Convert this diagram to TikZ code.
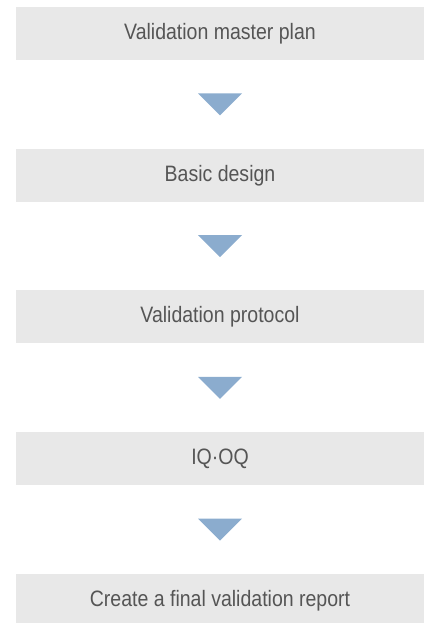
\documentclass[tikz,border=0pt]{standalone}
\usepackage{fontspec}
\setmainfont{Liberation Sans}[FakeStretch=0.875]
\usetikzlibrary{calc}
\definecolor{boxgray}{RGB}{232,232,232}
\definecolor{txtgray}{RGB}{85,85,85}
\definecolor{triblue}{RGB}{139,172,206}
\tikzset{
  stepbox/.style={fill=boxgray, draw=none, minimum width=408pt, minimum height=53pt, inner sep=0pt,
    text=txtgray, font=\fontsize{22.3}{26}\selectfont},
  downtri/.style={fill=triblue, draw=none}
}
\begin{document}
\begin{tikzpicture}[x=1pt,y=1pt]
\useasboundingbox (0,0) rectangle (424,623);
\clip (0,0) rectangle (424,623);
\node[stepbox] (b1) at (220,589.5) {Validation master plan};
\node[stepbox] (b2) at (220,447.75) {Basic design};
\node[stepbox] (b3) at (220,306) {Validation protocol};
\node[stepbox] (b4) at (220,164.25) {IQ·OQ};
\node[stepbox] (b5) at (220,22.5) {Create a final validation report};
\foreach \a/\b [count=\i] in {b1/b2,b2/b3,b3/b4,b4/b5}{
  \path (\a.south) -- (\b.north) coordinate[midway] (m\i);
  \fill[downtri] ($(m\i)+(-22,11)$) -- ($(m\i)+(22,11)$) -- ($(m\i)+(0,-11)$) -- cycle;
}
\end{tikzpicture}
\end{document}
